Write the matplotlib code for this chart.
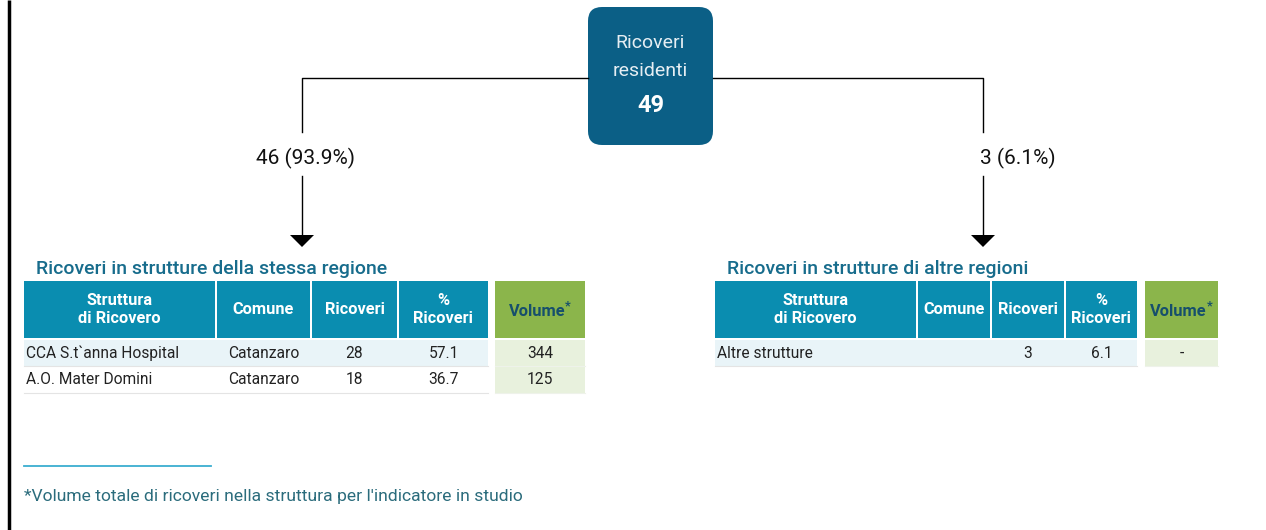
import matplotlib.pyplot as plt
from matplotlib.patches import Rectangle, FancyBboxPatch, Polygon

plt.rcParams['font.family'] = ['Roboto', 'DejaVu Sans']

# -------------------------------------------------------
# Dati
# -------------------------------------------------------
totale = 49
n_stessa = 46
pct_stessa = 93.9
n_altre = 3
pct_altre = 6.1

intestazioni = ["Struttura\ndi Ricovero", "Comune", "Ricoveri", "%\nRicoveri"]

sx_strutture = ["CCA S.t`anna Hospital", "A.O. Mater Domini"]
sx_comuni = ["Catanzaro", "Catanzaro"]
sx_ricoveri = [28, 18]
sx_pct = [57.1, 36.7]
sx_volume = ["344", "125"]

dx_strutture = ["Altre strutture"]
dx_comuni = [""]
dx_ricoveri = [3]
dx_pct = [6.1]
dx_volume = ["-"]

# -------------------------------------------------------
# Colori
# -------------------------------------------------------
C_BOX = '#0b5f86'
C_HEAD = '#0a8db0'
C_GREEN = '#8bb54b'
C_GREEN_L = '#e8f1dd'
C_BLUE_L = '#e9f4f8'
C_TITLE = '#176c8c'
C_VOL_TXT = '#164f6c'

fig = plt.figure(figsize=(12.66, 5.30), dpi=100)
ax = fig.add_axes([0, 0, 1, 1])
ax.set_xlim(0, 1266)
ax.set_ylim(530, 0)
ax.axis('off')

# bordo sinistro
ax.plot([9, 9], [0, 530], color='black', lw=2.5, solid_capstyle='butt')

# -------------------------------------------------------
# Box centrale
# -------------------------------------------------------
box = FancyBboxPatch((588, 7), 125, 138, boxstyle="round,pad=0,rounding_size=14",
                     fc=C_BOX, ec='none')
ax.add_patch(box)
ax.text(650.5, 43, "Ricoveri", ha='center', va='center', color='#e6eef3', fontsize=14)
ax.text(650.5, 71, "residenti", ha='center', va='center', color='#e6eef3', fontsize=14)
ax.text(650.5, 106, str(totale), ha='center', va='center', color='white',
        fontsize=17, fontweight='bold')

# -------------------------------------------------------
# Connettori e frecce
# -------------------------------------------------------
def ramo(x, x_box, etichetta, ha, x_lab):
    ax.plot([x_box, x, x], [78, 78, 132], color='black', lw=1)
    ax.text(x_lab, 158, etichetta, ha=ha, va='center', fontsize=15, color='#111111')
    ax.plot([x, x], [176, 236], color='black', lw=1)
    ax.add_patch(Polygon([[x - 12, 235], [x + 12, 235], [x, 247]], closed=True,
                         fc='black', ec='none'))

ramo(302, 588, f"{n_stessa} ({pct_stessa}%)", 'center', 305)
ramo(983, 713, f"{n_altre} ({pct_altre}%)", 'left', 980)

# -------------------------------------------------------
# Tabelle
# -------------------------------------------------------
def tabella(titolo, x_title, col_edges, vol_edges, strutture, comuni, ricoveri, pct, volume):
    ax.text(x_title, 269, titolo, ha='left', va='center', fontsize=14,
            color=C_TITLE, fontweight='medium')
    y0, y1 = 281, 338
    # intestazione
    for i, txt in enumerate(intestazioni):
        xa, xb = col_edges[i], col_edges[i + 1]
        ax.add_patch(Rectangle((xa, y0), xb - xa - 2, y1 - y0, fc=C_HEAD, ec='none'))
        ax.text((xa + xb - 2) / 2, (y0 + y1) / 2, txt, ha='center', va='center',
                color='white', fontsize=11.8, fontweight='bold', linespacing=1.25)
    va_, vb_ = vol_edges
    ax.add_patch(Rectangle((va_, y0), vb_ - va_, y1 - y0, fc=C_GREEN, ec='none'))
    t = ax.text((va_ + vb_) / 2 - 3, (y0 + y1) / 2 + 2, "Volume", ha='center', va='center',
                color=C_VOL_TXT, fontsize=11.8, fontweight='bold')
    ax.annotate("*", xy=(1, 0.45), xycoords=t, ha='left', va='bottom',
                fontsize=9, fontweight='bold', color=C_VOL_TXT)

    # righe
    row_h = 26
    for r in range(len(strutture)):
        ya = 340 + r * (row_h + 1)
        yc = ya + row_h / 2
        bg = C_BLUE_L if r % 2 == 0 else 'white'
        ax.add_patch(Rectangle((col_edges[0], ya), col_edges[-1] - col_edges[0] - 2, row_h,
                               fc=bg, ec='none'))
        ax.plot([col_edges[0], col_edges[-1] - 2], [ya + row_h, ya + row_h],
                color='#e4e4e4', lw=0.8)
        ax.add_patch(Rectangle((va_, ya), vb_ - va_, row_h, fc=C_GREEN_L, ec='none'))
        ax.plot([va_, vb_], [ya + row_h, ya + row_h], color='#eef2ea', lw=0.8)

        ax.text(col_edges[0] + 2, yc, strutture[r], ha='left', va='center',
                fontsize=11.2, color='#222222')
        valori = [comuni[r], str(ricoveri[r]), f"{pct[r]}"]
        for j, v in enumerate(valori):
            xa, xb = col_edges[j + 1], col_edges[j + 2]
            ax.text((xa + xb - 2) / 2, yc, v, ha='center', va='center',
                    fontsize=11.2, color='#222222')
        ax.text((va_ + vb_) / 2, yc, volume[r], ha='center', va='center',
                fontsize=11.2, color='#222222')

tabella("Ricoveri in strutture della stessa regione", 36,
        [24, 217, 312, 399, 490], (495, 585),
        sx_strutture, sx_comuni, sx_ricoveri, sx_pct, sx_volume)

tabella("Ricoveri in strutture di altre regioni", 727,
        [715, 918, 992, 1066, 1139], (1145, 1218),
        dx_strutture, dx_comuni, dx_ricoveri, dx_pct, dx_volume)

# -------------------------------------------------------
# Nota
# -------------------------------------------------------
ax.plot([24, 211], [466, 466], color='#3aaed0', lw=1.3)
ax.text(24, 496, "*Volume totale di ricoveri nella struttura per l'indicatore in studio",
        ha='left', va='center', fontsize=12.6, color='#2b6c7c')

fig.savefig('out.png', dpi=100)
